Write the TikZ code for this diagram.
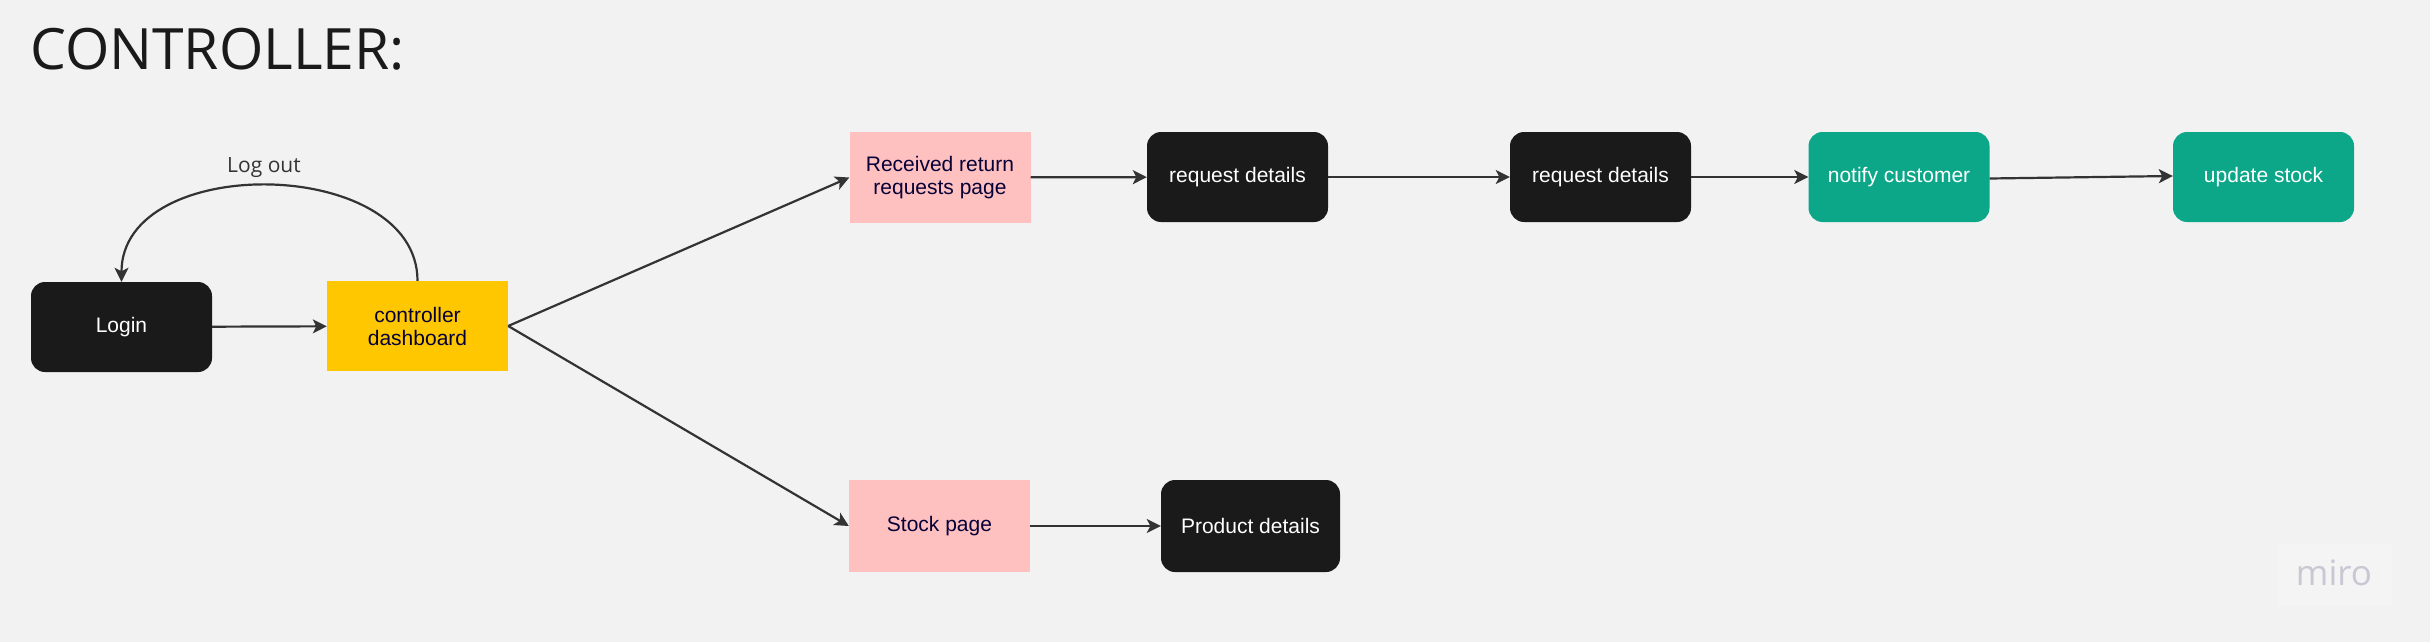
\documentclass[tikz,border=0pt]{standalone}
\usepackage{fontspec}
\setmainfont{Liberation Sans}
\newfontfamily\opensans{Open Sans}
\usetikzlibrary{arrows.meta,calc}
\definecolor{bg}{HTML}{F2F2F2}
\definecolor{boxblack}{HTML}{1A1A1A}
\definecolor{boxyellow}{HTML}{FFC700}
\definecolor{boxpink}{HTML}{FFC0C0}
\definecolor{boxgreen}{HTML}{0CA789}
\definecolor{navy}{HTML}{050038}
\definecolor{linegray}{HTML}{333333}
\definecolor{mirogray}{HTML}{C8C8D4}
\definecolor{mirobox}{HTML}{F4F4F4}
\tikzset{
  card/.style={minimum width=181pt, minimum height=90pt, inner sep=0pt, align=center,
    font=\fontsize{21}{23}\selectfont},
  blackcard/.style={card, fill=boxblack, text=white, rounded corners=14pt},
  greencard/.style={card, fill=boxgreen, text=white, rounded corners=14pt},
  pinkcard/.style={card, fill=boxpink, text=navy},
  yellowcard/.style={card, fill=boxyellow, text=navy},
  conn/.style={draw=linegray, line width=2.2pt, -{Stealth[length=14pt,width=14pt,inset=3.5pt]}},
}
\begin{document}
\begin{tikzpicture}[x=1pt,y=-1pt]
\fill[bg] (0,0) rectangle (2430,642);
\useasboundingbox (0,0) rectangle (2430,642);

\node[anchor=base west, inner sep=0pt, text=boxblack, font=\opensans\fontsize{57}{60}\selectfont] (title) at (30,70) {CONTROLLER:};

\node[blackcard] (login) at (121.5,327) {Login};
\node[yellowcard] (dash) at (417.5,326) {controller\\dashboard};
\node[pinkcard, minimum height=91pt] (recv) at (940,177.5) {Received return\\requests page};
\node[blackcard] (req1) at (1237.5,177) {request details};
\node[blackcard] (req2) at (1600.5,177) {request details};
\node[greencard] (notify) at (1899,177) {notify customer};
\node[greencard] (update) at (2263.5,177) {update stock};
\node[pinkcard, minimum height=92pt] (stock) at (939.5,526) {Stock page};
\node[blackcard, minimum width=179pt, minimum height=92pt] (prod) at (1250.5,526) {Product details};

\node[anchor=base, inner sep=0pt, text=linegray, font=\opensans\fontsize{21}{24}\selectfont] (logout) at (264,172) {Log out};

\draw[conn] (dash.north) .. controls +(0,-125) and +(0,-130) .. (login.north);
\draw[conn] (login) -- (dash);
\draw[conn] (dash.east) -- (recv.west);
\draw[conn] (dash.east) -- (stock.west);
\draw[conn] (recv) -- (req1);
\draw[conn] (req1) -- (req2);
\draw[conn] (req2) -- (notify);
\draw[conn] ($(notify.east)+(0,1.5)$) -- ($(update.west)+(0,-1)$);
\draw[conn] (stock) -- (prod);

\node[fill=mirobox, minimum width=114pt, minimum height=62pt, inner sep=0pt] (mirologo) at (2335,575) {};
\node[anchor=base, inner sep=0pt, text=mirogray, font=\opensans\fontsize{35}{40}\selectfont] (mirotext) at (2334,585) {miro};
\end{tikzpicture}
\end{document}
